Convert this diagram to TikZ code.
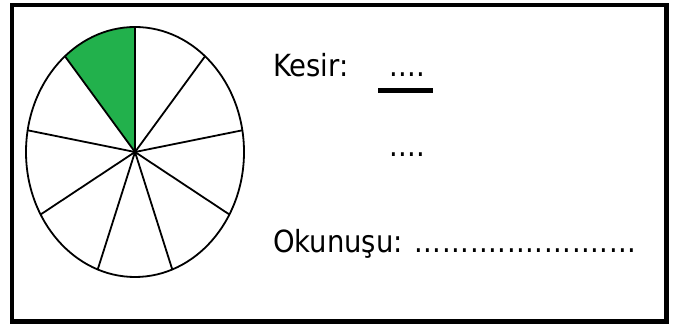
\documentclass[tikz,border=0pt]{standalone}
\usepackage{fontspec}
\setmainfont{DejaVu Sans Condensed}
\newfontfamily\dotsfont{DejaVu Sans Condensed}[LetterSpace=1.8]
\definecolor{pie green}{RGB}{34,177,76}

\begin{document}
\begin{tikzpicture}[x=1pt, y=1pt,
	every node/.style={font=\fontsize{30.5}{37}\selectfont, inner sep=0pt, anchor=base west},
	pie/.style={line width=1.8pt, black}]
	\useasboundingbox (0,0) rectangle (679,324);
	\draw[line width=4.5pt] (12,2.5) rectangle (666.5,319);
	% pie in nine slices, one of them shaded
	\coordinate (c) at (135,172);
	\fill[pie green] (c) -- ++(90:109 and 125) arc[start angle=90, end angle=130, x radius=109, y radius=125] -- cycle;
	\draw[pie] (c) ellipse (109 and 125);
	\foreach \a in {90,130,...,410}
		\draw[pie] (c) -- ++(\a:109 and 125);
	% texts
	\node (kesir) at (273,247) {Kesir:};
	\node (pay) at (389,247) {\dotsfont ....};
	\node (payda) at (389,167) {\dotsfont ....};
	\draw[line width=5pt] (378,233) -- (433,233);
	\node (okunus) at (273,72) {Okunuşu: {\dotsfont ........................}};
\end{tikzpicture}
\end{document}
